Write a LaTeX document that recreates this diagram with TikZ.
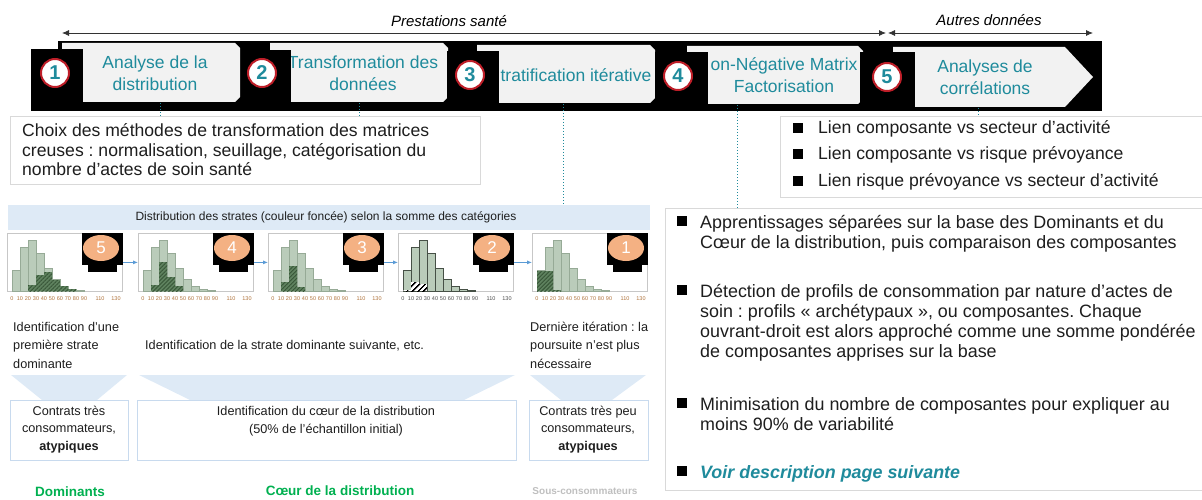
\documentclass[tikz,border=0pt]{standalone}
\usepackage{fontspec}
\setmainfont{Liberation Sans}
\usetikzlibrary{shapes.geometric,patterns,patterns.meta,arrows.meta}
\frenchspacing
\definecolor{tealc}{RGB}{31,139,156}
\definecolor{chevfill}{RGB}{242,242,242}
\definecolor{circred}{RGB}{190,30,40}
\definecolor{boxgray}{RGB}{217,217,217}
\definecolor{lblue}{RGB}{222,234,246}
\definecolor{lbluebd}{RGB}{200,218,238}
\definecolor{histlight}{RGB}{186,204,186}
\definecolor{histedge}{RGB}{150,170,150}
\definecolor{histedgedk}{RGB}{70,80,70}
\definecolor{histdark}{RGB}{95,130,95}
\definecolor{histdk2}{RGB}{55,85,55}
\definecolor{badgec}{RGB}{244,177,131}
\definecolor{arrblue}{RGB}{91,155,213}
\definecolor{greenc}{RGB}{0,176,80}
\definecolor{grayc}{RGB}{191,191,191}
\definecolor{ticko}{RGB}{175,115,60}
\definecolor{txtc}{RGB}{30,30,30}
\newcommand{\chevbox}[4]{\fill[chevfill] (#1,#2) -- (#3-5,#2) -- (#3,#2+5) -- (#3,#4-5) -- (#3-5,#4) -- (#1,#4) -- cycle;}
\newcommand{\hpanel}[7]{%
  \node[pframe, anchor=north west] (p#1) at (#2,233) {};
  \foreach \hh [count=\ii from 0] in {21,44,51,38,23,12,5,2,1}
    \filldraw[#6] ({#2+5+8*\ii},291) rectangle ++(8,-\hh);
  \foreach \bb/\hh in {#4}
    \fill[#5] ({#2+5+8*\bb},291) rectangle ++(8,-\hh);
  \foreach \tlab [count=\kk from 0] in {0,10,20,30,40,50,60,70,80,90}
    \node[ticklbl, text=#7] (tk#1-\kk) at ({#2+5+8*\kk},299) {\tlab};
  \node[ticklbl, text=#7] (tk#1-11) at ({#2+5+8*11},299) {110};
  \node[ticklbl, text=#7] (tk#1-13) at ({#2+5+8*13},299) {130};
  \fill[black] ({#2+75},233) rectangle ({#2+116},265);
  \fill[black] ({#2+81},265) rectangle ({#2+110},272);
  \node[badge] (e#1) at ({#2+94},248) {#3};
}
\tikzset{
  toparr/.style={draw=black!80, line width=0.8pt, {Latex[length=7pt,width=6pt]}-{Latex[length=7pt,width=6pt]}},
  toplbl/.style={font=\fontsize{15}{15}\selectfont\itshape, inner sep=0pt},
  chevtxt/.style={text=tealc, font=\fontsize{17.5}{22}\selectfont, align=center, inner sep=0pt},
  numc/.style={circle, draw=circred, line width=2pt, fill=white, minimum size=28pt, inner sep=0pt, text=tealc, font=\fontsize{20}{20}\selectfont\bfseries},
  dotl/.style={draw=tealc, dotted, line width=1pt},
  tbox/.style={draw=boxgray, line width=1pt, fill=white, inner sep=0pt},
  bodytxt/.style={text=txtc, font=\fontsize{17.6}{19.5}\selectfont, align=left, inner sep=0pt},
  bigtxt/.style={text=txtc, font=\fontsize{17.9}{19.8}\selectfont, align=left, inner sep=0pt},
  bsq/.style={fill=black, minimum size=10pt, inner sep=0pt},
  pframe/.style={draw=black!22, line width=0.8pt, fill=white, minimum width=115pt, minimum height=58pt, inner sep=0pt},
  lbar/.style={fill=histlight, draw=histedge, line width=0.6pt},
  lbardk/.style={fill=histlight, draw=histedgedk, line width=1pt},
  dbar/.style={preaction={fill=histdark}, pattern={Lines[angle=45,distance=2.8pt,line width=0.9pt]}, pattern color=histdk2},
  dbarbw/.style={preaction={fill=white}, pattern={Lines[angle=45,distance=4pt,line width=1.7pt]}, pattern color=black},
  ticklbl/.style={font=\fontsize{5.5}{5.5}\selectfont, inner sep=0pt},
  badge/.style={ellipse, fill=badgec, minimum width=36pt, minimum height=26pt, inner sep=0pt, text=white, font=\fontsize{17}{17}\selectfont},
  barrow/.style={draw=arrblue, line width=0.8pt, -{Latex[length=5pt,width=4pt]}},
  smalltxt/.style={text=txtc, font=\fontsize{12.7}{18.5}\selectfont, inner sep=0pt},
  lowbox/.style={draw=lbluebd, line width=1.2pt, fill=white, inner sep=0pt, minimum height=60pt, anchor=north west},
  greenlbl/.style={text=greenc, font=\fontsize{13.5}{13.5}\selectfont\bfseries, inner sep=0pt},
}
\begin{document}
\begin{tikzpicture}[x=1pt,y=-1pt]
\useasboundingbox (0,0) rectangle (1202,500);
% ---- top arrows
\coordinate (pa) at (62,33); \coordinate (pb) at (886,33);
\coordinate (aa) at (888,33); \coordinate (ab) at (1093,33);
\draw[toparr] (pa) -- (pb);
\draw[toparr] (aa) -- (ab);
\node[toplbl] (tl1) at (449,21) {Prestations santé};
\node[toplbl] (tl2) at (989,20) {Autres données};
% ---- black band
\fill[black] (58,41) rectangle (1102,111);
% ---- chevrons
\chevbox{62}{43}{240}{102}
\chevbox{270}{43}{448}{102}
\chevbox{477}{45}{655}{103}
\chevbox{687}{46}{863}{104}
\fill[chevfill] (893,47) -- (1065,47) -- (1093,77) -- (1065,107) -- (893,107) -- cycle;
\node[chevtxt] (t1) at (155,73) {Analyse de la\\distribution};
\node[chevtxt] (t2) at (363,73) {Transformation des\\données};
\node[chevtxt] (t3) at (576,75) {tratification itérative};
\node[chevtxt] (t4) at (784,75) {on-Négative Matrix\\Factorisation};
\node[chevtxt] (t5) at (985,77) {Analyses de\\corrélations};
% ---- black squares behind the numbers
\fill[black] (31,49) rectangle (83,111);
\fill[black] (248,50) rectangle (291,111);
\fill[black] (447,51) rectangle (499,111);
\fill[black] (655,52) rectangle (708,111);
\fill[black] (860,52) rectangle (915,111);
\node[numc] (c1) at (55,73) {1};
\node[numc] (c2) at (262,73) {2};
\node[numc] (c3) at (470,75) {3};
\node[numc] (c4) at (678,76) {4};
\node[numc] (c5) at (887,77) {5};
% ---- text boxes
\node[tbox, anchor=north west, minimum width=470pt, minimum height=68pt] (choix) at (10,116) {};
\node[bodytxt, anchor=north west] (choixt) at (22,123.5) {\rule{0pt}{13pt}Choix des méthodes de transformation des matrices\\creuses : normalisation, seuillage, catégorisation du\\nombre d’actes de soin santé};
\node[tbox, anchor=north west, minimum width=430pt, minimum height=81pt] (rbox) at (780,116) {};
\node[bodytxt, anchor=north west] (r1) at (818,120) {\rule{0pt}{13pt}Lien composante vs secteur d’activité};
\node[bodytxt, anchor=north west] (r2) at (818,146.5) {\rule{0pt}{13pt}Lien composante vs risque prévoyance};
\node[bodytxt, anchor=north west] (r3) at (818,173) {\rule{0pt}{13pt}Lien risque prévoyance vs secteur d’activité};
\node[bsq] (rq1) at (798,128) {};
\node[bsq] (rq2) at (798,154.5) {};
\node[bsq] (rq3) at (798,181) {};
\node[tbox, anchor=north west, minimum width=545pt, minimum height=282pt] (bigbox) at (665,208) {};
\node[bigtxt, anchor=north west] (i1) at (700,215) {\rule{0pt}{13pt}Apprentissages séparées sur la base des Dominants et du\\Cœur de la distribution, puis comparaison des composantes};
\node[bigtxt, anchor=north west] (i2) at (700,284.5) {\rule{0pt}{13pt}Détection de profils de consommation par nature d’actes de\\soin : profils « archétypaux », ou composantes. Chaque\\ouvrant-droit est alors approché comme une somme pondérée\\de composantes apprises sur la base};
\node[bigtxt, anchor=north west] (i3) at (700,397.5) {\rule{0pt}{13pt}Minimisation du nombre de composantes pour expliquer au\\moins 90\% de variabilité};
\node[bigtxt, anchor=north west, text=tealc] (i4) at (700,465.5) {\rule{0pt}{13pt}\bfseries\itshape Voir description page suivante};
\node[bsq] (q1) at (682,220.5) {};
\node[bsq] (q2) at (682,290) {};
\node[bsq] (q3) at (682,403) {};
\node[bsq] (q4) at (682,471) {};
% ---- dotted connectors
\coordinate (d1) at (160,103); \coordinate (d2) at (359,103);
\coordinate (d3) at (563,104); \coordinate (d4) at (737,105);
\coordinate (d5) at (978,108);
% ---- distribution band
\node[fill=lblue, anchor=north west, minimum width=642pt, minimum height=25pt, inner sep=0pt] (band) at (8,205) {};
\node[text=txtc, font=\fontsize{12}{12}\selectfont, inner sep=0pt] (bandt) at (326,217.5) {Distribution des strates (couleur foncée) selon la somme des catégories};
\draw[dotl] (d1) -- (d1 |- choix.north);
\draw[dotl] (d2) -- (d2 |- choix.north);
\draw[dotl] (d3) -- (d3 |- band.north);
\draw[dotl] (d4) -- (d4 |- bigbox.north);
\draw[dotl] (d5) -- (d5 |- rbox.north);
% ---- histogram panels
\hpanel{1}{7}{5}{2/6,3/16,4/19,5/11,6/5,7/2}{dbar}{lbar}{ticko}
\hpanel{2}{138}{4}{1/6,2/29,3/14,4/5}{dbar}{lbar}{ticko}
\hpanel{3}{268}{3}{1/9,2/25,3/4}{dbar}{lbar}{ticko}
\hpanel{4}{398}{2}{0/1,1/9,2/7}{dbarbw}{lbardk}{black!70}
\hpanel{5}{532}{1}{0/20,1/20,2/1}{dbar}{lbar}{ticko}
\draw[barrow] (p1.east) -- (p2.west);
\draw[barrow] (p2.east) -- (p3.west);
\draw[barrow] (p3.east) -- (p4.west);
\draw[barrow] (p4.east) -- (p5.west);
% ---- lower texts
\node[smalltxt, anchor=north west, align=left] (n1) at (13,321) {\rule{0pt}{10pt}Identification d’une\\première strate\\dominante};
\node[smalltxt, anchor=base west] (n2) at (145,349.5) {Identification de la strate dominante suivante, etc.};
\node[smalltxt, anchor=north west, align=left] (n3) at (530,321) {\rule{0pt}{10pt}Dernière itération : la\\poursuite n’est plus\\nécessaire};
% ---- funnels
\fill[lblue] (11,375) -- (127,375) -- (97,400) -- (42,400) -- cycle;
\fill[lblue] (139,375) -- (515,375) -- (464,400) -- (190,400) -- cycle;
\fill[lblue] (530,375) -- (646,375) -- (612,400) -- (561,400) -- cycle;
\node[lowbox, minimum width=118pt] (lb) at (10,400) {};
\node[lowbox, minimum width=379pt] (mb) at (137,400) {};
\node[lowbox, minimum width=119pt] (rb) at (529,400) {};
\node[smalltxt, align=center, font=\fontsize{12.7}{17.5}\selectfont] (lbt) at (69,429.5) {Contrats très\\consommateurs,\\\textbf{atypiques}};
\node[smalltxt, align=center, font=\fontsize{12.7}{18}\selectfont] (mbt) at (326,421) {Identification du cœur de la distribution\\(50\% de l’échantillon initial)};
\node[smalltxt, align=center, font=\fontsize{12.7}{17.5}\selectfont] (rbt) at (588,429.5) {Contrats très peu\\consommateurs,\\\textbf{atypiques}};
\node[greenlbl] (g1) at (70,492) {Dominants};
\node[greenlbl] (g2) at (340,491) {Cœur de la distribution};
\node[text=grayc, font=\fontsize{10}{10}\selectfont\bfseries, inner sep=0pt] (g3) at (585,491) {Sous-consommateurs};
\end{tikzpicture}
\end{document}
